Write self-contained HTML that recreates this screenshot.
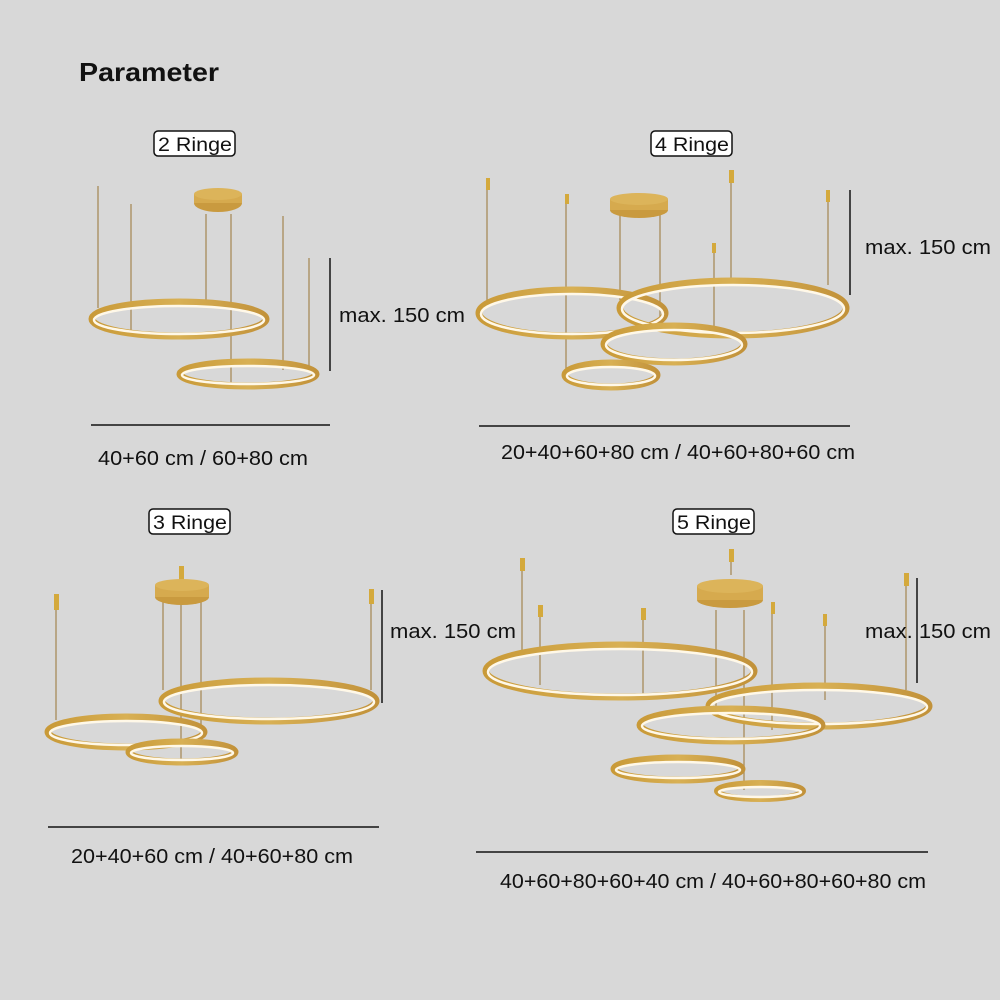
<!DOCTYPE html>
<html><head><meta charset="utf-8"><style>
html,body{margin:0;padding:0;background:#d8d8d8;}
svg{display:block}
text{font-family:"Liberation Sans","DejaVu Sans",sans-serif;fill:#111}
</style></head><body>
<svg width="1000" height="1000" viewBox="0 0 1000 1000" xmlns="http://www.w3.org/2000/svg">
<defs>
<linearGradient id="g" x1="0" y1="0" x2="1" y2="0">
<stop offset="0" stop-color="#c99a38"/><stop offset=".5" stop-color="#d8b054"/><stop offset="1" stop-color="#c2923a"/>
</linearGradient>
</defs>
<rect width="1000" height="1000" fill="#d8d8d8"/>
<text x="79" y="81" font-size="26" font-weight="bold" textLength="140" lengthAdjust="spacingAndGlyphs">Parameter</text>

<g font-size="19">
<rect x="154" y="131" width="81" height="25" rx="4" fill="#fff" stroke="#111" stroke-width="1.5"/>
<text x="158" y="151" textLength="74" lengthAdjust="spacingAndGlyphs">2 Ringe</text>
<rect x="651" y="131" width="81" height="25" rx="4" fill="#fff" stroke="#111" stroke-width="1.5"/>
<text x="655" y="151" textLength="74" lengthAdjust="spacingAndGlyphs">4 Ringe</text>
<rect x="149" y="509" width="81" height="25" rx="4" fill="#fff" stroke="#111" stroke-width="1.5"/>
<text x="153" y="529" textLength="74" lengthAdjust="spacingAndGlyphs">3 Ringe</text>
<rect x="673" y="509" width="81" height="25" rx="4" fill="#fff" stroke="#111" stroke-width="1.5"/>
<text x="677" y="529" textLength="74" lengthAdjust="spacingAndGlyphs">5 Ringe</text>
</g>

<g stroke="#a88b5a" stroke-width="1.3">
<line x1="98" y1="186" x2="98" y2="308"/><line x1="131" y1="204" x2="131" y2="335"/>
<line x1="206" y1="214" x2="206" y2="302"/><line x1="231" y1="214" x2="231" y2="385"/>
<line x1="283" y1="216" x2="283" y2="370"/><line x1="309" y1="258" x2="309" y2="366"/>
<line x1="487" y1="180" x2="487" y2="300"/><line x1="566" y1="195" x2="566" y2="370"/>
<line x1="620" y1="215" x2="620" y2="300"/><line x1="660" y1="215" x2="660" y2="330"/>
<line x1="714" y1="245" x2="714" y2="330"/><line x1="731" y1="172" x2="731" y2="280"/>
<line x1="828" y1="192" x2="828" y2="285"/>
<line x1="56" y1="594" x2="56" y2="720"/><line x1="181" y1="568" x2="181" y2="760"/>
<line x1="163" y1="600" x2="163" y2="690"/><line x1="201" y1="600" x2="201" y2="740"/>
<line x1="371" y1="590" x2="371" y2="690"/>
<line x1="522" y1="565" x2="522" y2="650"/><line x1="540" y1="605" x2="540" y2="685"/>
<line x1="643" y1="608" x2="643" y2="700"/><line x1="731" y1="552" x2="731" y2="575"/>
<line x1="772" y1="602" x2="772" y2="730"/><line x1="825" y1="615" x2="825" y2="700"/>
<line x1="906" y1="575" x2="906" y2="690"/><line x1="744" y1="610" x2="744" y2="790"/>
<line x1="716" y1="610" x2="716" y2="710"/>
</g>
<g fill="#d4a93c">
<rect x="486" y="178" width="4" height="12"/><rect x="565" y="194" width="4" height="10"/>
<rect x="729" y="170" width="5" height="13"/><rect x="826" y="190" width="4" height="12"/><rect x="712" y="243" width="4" height="10"/>
<rect x="54" y="594" width="5" height="16"/><rect x="179" y="566" width="5" height="14"/><rect x="369" y="589" width="5" height="15"/>
<rect x="520" y="558" width="5" height="13"/><rect x="538" y="605" width="5" height="12"/><rect x="641" y="608" width="5" height="12"/>
<rect x="729" y="549" width="5" height="13"/><rect x="771" y="602" width="4" height="12"/><rect x="823" y="614" width="4" height="12"/>
<rect x="904" y="573" width="5" height="13"/>
</g>
<g fill="#c99a3f">
<ellipse cx="218" cy="203" rx="24" ry="9"/><rect x="194" y="194" width="48" height="9" fill="#d6aa4e"/><ellipse cx="218" cy="194" rx="24" ry="6" fill="#dcb45a"/>
<ellipse cx="639" cy="210" rx="29" ry="8"/><rect x="610" y="199" width="58" height="11" fill="#d6aa4e"/><ellipse cx="639" cy="199" rx="29" ry="6" fill="#dcb45a"/>
<ellipse cx="182" cy="597" rx="27" ry="8"/><rect x="155" y="585" width="54" height="12" fill="#d6aa4e"/><ellipse cx="182" cy="585" rx="27" ry="6" fill="#dcb45a"/>
<ellipse cx="730" cy="600" rx="33" ry="8"/><rect x="697" y="586" width="66" height="14" fill="#d6aa4e"/><ellipse cx="730" cy="586" rx="33" ry="7" fill="#dcb45a"/>
</g>

<g fill="none">
<ellipse cx="179" cy="319" rx="87" ry="17" stroke="url(#g)" stroke-width="7"/><ellipse cx="179" cy="320" rx="85" ry="14" stroke="#fff8e8" stroke-width="2.5"/>
<ellipse cx="248" cy="374" rx="68" ry="12" stroke="url(#g)" stroke-width="7"/><ellipse cx="248" cy="375" rx="66" ry="9" stroke="#fff8e8" stroke-width="2.5"/>
<ellipse cx="572" cy="313" rx="93" ry="23" stroke="url(#g)" stroke-width="7"/><ellipse cx="572" cy="314" rx="91" ry="20" stroke="#fff8e8" stroke-width="2.5"/>
<ellipse cx="733" cy="308" rx="113" ry="27" stroke="url(#g)" stroke-width="7"/><ellipse cx="733" cy="309" rx="111" ry="24" stroke="#fff8e8" stroke-width="2.5"/>
<ellipse cx="674" cy="344" rx="70" ry="18" stroke="url(#g)" stroke-width="7"/><ellipse cx="674" cy="345" rx="68" ry="15" stroke="#fff8e8" stroke-width="2.5"/>
<ellipse cx="611" cy="375" rx="46" ry="12" stroke="url(#g)" stroke-width="7"/><ellipse cx="611" cy="376" rx="44" ry="9" stroke="#fff8e8" stroke-width="2.5"/>
<ellipse cx="126" cy="732" rx="78" ry="15" stroke="url(#g)" stroke-width="7"/><ellipse cx="126" cy="733" rx="76" ry="12" stroke="#fff8e8" stroke-width="2.5"/>
<ellipse cx="269" cy="701" rx="107" ry="20" stroke="url(#g)" stroke-width="7"/><ellipse cx="269" cy="702" rx="105" ry="17" stroke="#fff8e8" stroke-width="2.5"/>
<ellipse cx="182" cy="752" rx="53" ry="10" stroke="url(#g)" stroke-width="7"/><ellipse cx="182" cy="753" rx="51" ry="7" stroke="#fff8e8" stroke-width="2.5"/>
<ellipse cx="620" cy="671" rx="134" ry="26" stroke="url(#g)" stroke-width="7"/><ellipse cx="620" cy="672" rx="132" ry="23" stroke="#fff8e8" stroke-width="2.5"/>
<ellipse cx="819" cy="706" rx="110" ry="20" stroke="url(#g)" stroke-width="7"/><ellipse cx="819" cy="707" rx="108" ry="17" stroke="#fff8e8" stroke-width="2.5"/>
<ellipse cx="731" cy="725" rx="91" ry="16" stroke="url(#g)" stroke-width="7"/><ellipse cx="731" cy="726" rx="89" ry="13" stroke="#fff8e8" stroke-width="2.5"/>
<ellipse cx="678" cy="769" rx="64" ry="11" stroke="url(#g)" stroke-width="7"/><ellipse cx="678" cy="770" rx="62" ry="8" stroke="#fff8e8" stroke-width="2.5"/>
<ellipse cx="760" cy="791" rx="43" ry="8" stroke="url(#g)" stroke-width="6"/><ellipse cx="760" cy="792" rx="41" ry="5" stroke="#fff8e8" stroke-width="2.5"/>
</g>

<g stroke="#444" stroke-width="2">
<line x1="330" y1="258" x2="330" y2="371"/><line x1="91" y1="425" x2="330" y2="425"/>
<line x1="850" y1="190" x2="850" y2="295"/><line x1="479" y1="426" x2="850" y2="426"/>
<line x1="382" y1="590" x2="382" y2="703"/><line x1="48" y1="827" x2="379" y2="827"/>
<line x1="917" y1="578" x2="917" y2="683"/><line x1="476" y1="852" x2="928" y2="852"/>
</g>

<g font-size="20">
<text x="339" y="322" textLength="126" lengthAdjust="spacingAndGlyphs">max. 150 cm</text>
<text x="865" y="254" textLength="126" lengthAdjust="spacingAndGlyphs">max. 150 cm</text>
<text x="390" y="638" textLength="126" lengthAdjust="spacingAndGlyphs">max. 150 cm</text>
<text x="865" y="638" textLength="126" lengthAdjust="spacingAndGlyphs">max. 150 cm</text>
<text x="98" y="465" textLength="210" lengthAdjust="spacingAndGlyphs">40+60 cm  /  60+80 cm</text>
<text x="501" y="459" textLength="354" lengthAdjust="spacingAndGlyphs">20+40+60+80 cm  /  40+60+80+60 cm</text>
<text x="71" y="863" textLength="282" lengthAdjust="spacingAndGlyphs">20+40+60 cm  /  40+60+80 cm</text>
<text x="500" y="888" textLength="426" lengthAdjust="spacingAndGlyphs">40+60+80+60+40 cm  /  40+60+80+60+80 cm</text>
</g>
</svg>
</body></html>
